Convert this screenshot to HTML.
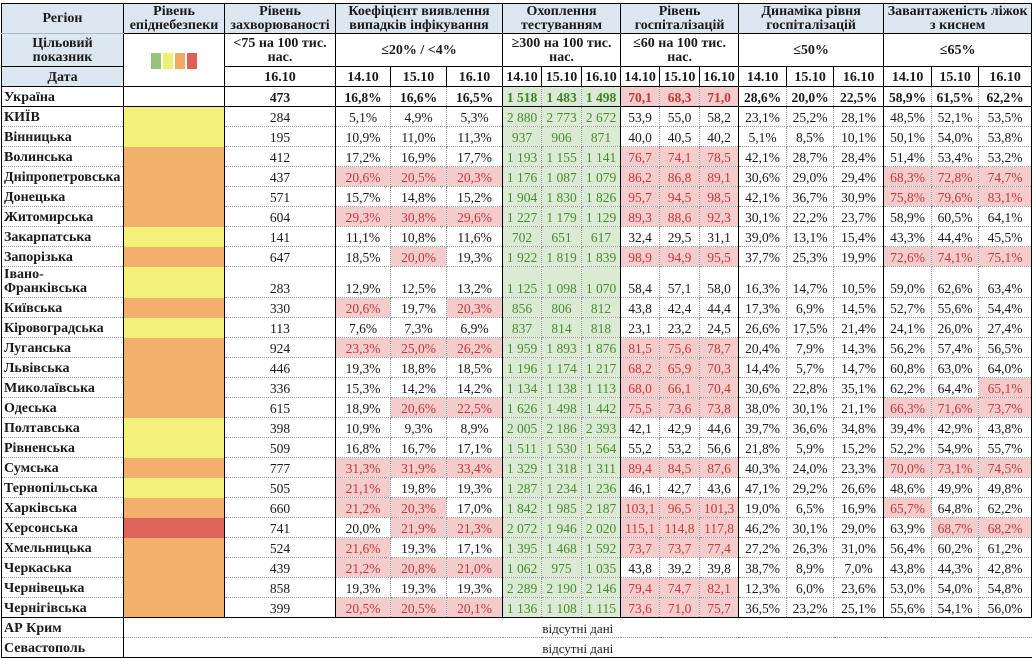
<!DOCTYPE html>
<html lang="uk">
<head>
<meta charset="utf-8">
<style>
html,body{margin:0;padding:0;background:#fff;}
body{width:1033px;height:658px;overflow:hidden;position:relative;}
table{position:absolute;left:1px;top:3px;border-collapse:collapse;table-layout:fixed;width:1030px;
  font-family:"Liberation Serif","DejaVu Serif",serif;font-size:13.5px;color:#1a1a1a;}
td{border:1px dotted #9a9a9a;padding:2px 1px 0 1px;text-align:center;vertical-align:middle;line-height:14px;white-space:nowrap;overflow:hidden;}
tr{height:20px;}
/* header */
tr.h td{border:1px solid #000;font-weight:bold;font-size:14px;}
tr.h1 td{background:#dce6f1;padding:0 1px;}
tr.h1 td.c1{border-bottom-color:#a9b8cc;}
td.bl{background:#dce6f1;}
.lg{display:inline-block;width:10px;height:16px;margin:0 1px;vertical-align:middle;}
/* data rows */
tr.d td:first-child{text-align:left;font-weight:bold;font-size:14px;padding-left:2px;border-left:1px solid #000;}
tr.d td:last-child{border-right:1px solid #000;}
tr.d td:nth-child(2),tr.d td:nth-child(3),tr.d td:nth-child(4),tr.d td:nth-child(7),
tr.d td:nth-child(10),tr.d td:nth-child(13),tr.d td:nth-child(16){border-left:1px solid #000;}
tr.d td:nth-child(n+7):nth-child(-n+9){background:#dbead2;color:#4b8a34;}
tr.u td{font-weight:bold;border-top:1px solid #000;border-bottom:1px solid #000;}
tr.u td:nth-child(n+7):nth-child(-n+9){color:#3f7f2a;}
td.p{background:#f4cccc;color:#c0393b;}
td.y,td.o,td.r{border-top:none;border-bottom:none;}
td.y{background:#f3f17a;}
td.o{background:#f3b06c;}
td.r{background:#df625b;}
tr.iv{height:31px;}
tr.iv td{vertical-align:bottom;padding-top:0;padding-bottom:1px;}
tr.iv td:first-child{vertical-align:middle;padding:0 0 0 2px;}
tr.k td{border-top:1px solid #000;}
tr.last td{border-bottom:1px solid #000;}
tr.k td.na,tr.last td.na{font-size:13px;border-right:none;}
</style>
</head>
<body>
<table>
<colgroup>
<col style="width:122px"><col style="width:101px"><col style="width:111px">
<col style="width:55px"><col style="width:56px"><col style="width:56px">
<col style="width:39px"><col style="width:40px"><col style="width:39px">
<col style="width:39px"><col style="width:40px"><col style="width:39px">
<col style="width:48px"><col style="width:47px"><col style="width:50px">
<col style="width:48px"><col style="width:47px"><col style="width:53px">
</colgroup>
<tr class="h h1" style="height:30px">
<td class="c1">Регіон</td>
<td>Рівень<br>епіднебезпеки</td>
<td>Рівень<br>захворюваності</td>
<td colspan="3">Коефіцієнт виявлення<br>випадків інфікування</td>
<td colspan="3">Охоплення<br>тестуванням</td>
<td colspan="3">Рівень<br>госпіталізацій</td>
<td colspan="3">Динаміка рівня<br>госпіталізацій</td>
<td colspan="3">Завантаженість ліжок<br>з киснем</td>
</tr>
<tr class="h" style="height:33px">
<td class="bl">Цільовий<br>показник</td>
<td rowspan="2"><span class="lg" style="background:#97c37a"></span><span class="lg" style="background:#f2ee72"></span><span class="lg" style="background:#f2aa62"></span><span class="lg" style="background:#df5f5a"></span></td>
<td>&lt;75 на 100 тис.<br>нас.</td>
<td colspan="3">≤20% / &lt;4%</td>
<td colspan="3">≥300 на 100 тис.<br>нас.</td>
<td colspan="3">≤60 на 100 тис.<br>нас.</td>
<td colspan="3">≤50%</td>
<td colspan="3">≤65%</td>
</tr>
<tr class="h" style="height:20px">
<td class="bl">Дата</td>
<td>16.10</td>
<td>14.10</td><td>15.10</td><td>16.10</td>
<td>14.10</td><td>15.10</td><td>16.10</td>
<td>14.10</td><td>15.10</td><td>16.10</td>
<td>14.10</td><td>15.10</td><td>16.10</td>
<td>14.10</td><td>15.10</td><td>16.10</td>
</tr>
<tr class="d u"><td>Україна</td><td></td><td>473</td><td>16,8%</td><td>16,6%</td><td>16,5%</td><td>1 518</td><td>1 483</td><td>1 498</td><td class="p">70,1</td><td class="p">68,3</td><td class="p">71,0</td><td>28,6%</td><td>20,0%</td><td>22,5%</td><td>58,9%</td><td>61,5%</td><td>62,2%</td></tr>
<tr class="d"><td>КИЇВ</td><td class="y"></td><td>284</td><td>5,1%</td><td>4,9%</td><td>5,3%</td><td>2 880</td><td>2 773</td><td>2 672</td><td>53,9</td><td>55,0</td><td>58,2</td><td>23,1%</td><td>25,2%</td><td>28,1%</td><td>48,5%</td><td>52,1%</td><td>53,5%</td></tr>
<tr class="d"><td>Вінницька</td><td class="y"></td><td>195</td><td>10,9%</td><td>11,0%</td><td>11,3%</td><td>937</td><td>906</td><td>871</td><td>40,0</td><td>40,5</td><td>40,2</td><td>5,1%</td><td>8,5%</td><td>10,1%</td><td>50,1%</td><td>54,0%</td><td>53,8%</td></tr>
<tr class="d"><td>Волинська</td><td class="o"></td><td>412</td><td>17,2%</td><td>16,9%</td><td>17,7%</td><td>1 193</td><td>1 155</td><td>1 141</td><td class="p">76,7</td><td class="p">74,1</td><td class="p">78,5</td><td>42,1%</td><td>28,7%</td><td>28,4%</td><td>51,4%</td><td>53,4%</td><td>53,2%</td></tr>
<tr class="d"><td>Дніпропетровська</td><td class="o"></td><td>437</td><td class="p">20,6%</td><td class="p">20,5%</td><td class="p">20,3%</td><td>1 176</td><td>1 087</td><td>1 079</td><td class="p">86,2</td><td class="p">86,8</td><td class="p">89,1</td><td>30,6%</td><td>29,0%</td><td>29,4%</td><td class="p">68,3%</td><td class="p">72,8%</td><td class="p">74,7%</td></tr>
<tr class="d"><td>Донецька</td><td class="o"></td><td>571</td><td>15,7%</td><td>14,8%</td><td>15,2%</td><td>1 904</td><td>1 830</td><td>1 826</td><td class="p">95,7</td><td class="p">94,5</td><td class="p">98,5</td><td>42,1%</td><td>36,7%</td><td>30,9%</td><td class="p">75,8%</td><td class="p">79,6%</td><td class="p">83,1%</td></tr>
<tr class="d"><td>Житомирська</td><td class="o"></td><td>604</td><td class="p">29,3%</td><td class="p">30,8%</td><td class="p">29,6%</td><td>1 227</td><td>1 179</td><td>1 129</td><td class="p">89,3</td><td class="p">88,6</td><td class="p">92,3</td><td>30,1%</td><td>22,2%</td><td>23,7%</td><td>58,9%</td><td>60,5%</td><td>64,1%</td></tr>
<tr class="d"><td>Закарпатська</td><td class="y"></td><td>141</td><td>11,1%</td><td>10,8%</td><td>11,6%</td><td>702</td><td>651</td><td>617</td><td>32,4</td><td>29,5</td><td>31,1</td><td>39,0%</td><td>13,1%</td><td>15,4%</td><td>43,3%</td><td>44,4%</td><td>45,5%</td></tr>
<tr class="d"><td>Запорізька</td><td class="o"></td><td>647</td><td>18,5%</td><td class="p">20,0%</td><td>19,3%</td><td>1 922</td><td>1 819</td><td>1 839</td><td class="p">98,9</td><td class="p">94,9</td><td class="p">95,5</td><td>37,7%</td><td>25,3%</td><td>19,9%</td><td class="p">72,6%</td><td class="p">74,1%</td><td class="p">75,1%</td></tr>
<tr class="d iv"><td>Івано-<br>Франківська</td><td class="y"></td><td>283</td><td>12,9%</td><td>12,5%</td><td>13,2%</td><td>1 125</td><td>1 098</td><td>1 070</td><td>58,4</td><td>57,1</td><td>58,0</td><td>16,3%</td><td>14,7%</td><td>10,5%</td><td>59,0%</td><td>62,6%</td><td>63,4%</td></tr>
<tr class="d"><td>Київська</td><td class="o"></td><td>330</td><td class="p">20,6%</td><td>19,7%</td><td class="p">20,3%</td><td>856</td><td>806</td><td>812</td><td>43,8</td><td>42,4</td><td>44,4</td><td>17,3%</td><td>6,9%</td><td>14,5%</td><td>52,7%</td><td>55,6%</td><td>54,4%</td></tr>
<tr class="d"><td>Кіровоградська</td><td class="y"></td><td>113</td><td>7,6%</td><td>7,3%</td><td>6,9%</td><td>837</td><td>814</td><td>818</td><td>23,1</td><td>23,2</td><td>24,5</td><td>26,6%</td><td>17,5%</td><td>21,4%</td><td>24,1%</td><td>26,0%</td><td>27,4%</td></tr>
<tr class="d"><td>Луганська</td><td class="o"></td><td>924</td><td class="p">23,3%</td><td class="p">25,0%</td><td class="p">26,2%</td><td>1 959</td><td>1 893</td><td>1 876</td><td class="p">81,5</td><td class="p">75,6</td><td class="p">78,7</td><td>20,4%</td><td>7,9%</td><td>14,3%</td><td>56,2%</td><td>57,4%</td><td>56,5%</td></tr>
<tr class="d"><td>Львівська</td><td class="o"></td><td>446</td><td>19,3%</td><td>18,8%</td><td>18,5%</td><td>1 196</td><td>1 174</td><td>1 217</td><td class="p">68,2</td><td class="p">65,9</td><td class="p">70,3</td><td>14,4%</td><td>5,7%</td><td>14,7%</td><td>60,8%</td><td>63,0%</td><td>64,0%</td></tr>
<tr class="d"><td>Миколаївська</td><td class="o"></td><td>336</td><td>15,3%</td><td>14,2%</td><td>14,2%</td><td>1 134</td><td>1 138</td><td>1 113</td><td class="p">68,0</td><td class="p">66,1</td><td class="p">70,4</td><td>30,6%</td><td>22,8%</td><td>35,1%</td><td>62,2%</td><td>64,4%</td><td class="p">65,1%</td></tr>
<tr class="d"><td>Одеська</td><td class="o"></td><td>615</td><td>18,9%</td><td class="p">20,6%</td><td class="p">22,5%</td><td>1 626</td><td>1 498</td><td>1 442</td><td class="p">75,5</td><td class="p">73,6</td><td class="p">73,8</td><td>38,0%</td><td>30,1%</td><td>21,1%</td><td class="p">66,3%</td><td class="p">71,6%</td><td class="p">73,7%</td></tr>
<tr class="d"><td>Полтавська</td><td class="y"></td><td>398</td><td>10,9%</td><td>9,3%</td><td>8,9%</td><td>2 005</td><td>2 186</td><td>2 393</td><td>42,1</td><td>42,9</td><td>44,6</td><td>39,7%</td><td>36,6%</td><td>34,8%</td><td>39,4%</td><td>42,9%</td><td>43,8%</td></tr>
<tr class="d"><td>Рівненська</td><td class="y"></td><td>509</td><td>16,8%</td><td>16,7%</td><td>17,1%</td><td>1 511</td><td>1 530</td><td>1 564</td><td>55,2</td><td>53,2</td><td>56,6</td><td>21,8%</td><td>5,9%</td><td>15,2%</td><td>52,2%</td><td>54,9%</td><td>55,7%</td></tr>
<tr class="d"><td>Сумська</td><td class="o"></td><td>777</td><td class="p">31,3%</td><td class="p">31,9%</td><td class="p">33,4%</td><td>1 329</td><td>1 318</td><td>1 311</td><td class="p">89,4</td><td class="p">84,5</td><td class="p">87,6</td><td>40,3%</td><td>24,0%</td><td>23,3%</td><td class="p">70,0%</td><td class="p">73,1%</td><td class="p">74,5%</td></tr>
<tr class="d"><td>Тернопільська</td><td class="y"></td><td>505</td><td class="p">21,1%</td><td>19,8%</td><td>19,3%</td><td>1 287</td><td>1 234</td><td>1 236</td><td>46,1</td><td>42,7</td><td>43,6</td><td>47,1%</td><td>29,2%</td><td>26,6%</td><td>48,6%</td><td>49,9%</td><td>49,8%</td></tr>
<tr class="d"><td>Харківська</td><td class="o"></td><td>660</td><td class="p">21,2%</td><td class="p">20,3%</td><td>17,0%</td><td>1 842</td><td>1 985</td><td>2 187</td><td class="p">103,1</td><td class="p">96,5</td><td class="p">101,3</td><td>19,0%</td><td>6,5%</td><td>16,9%</td><td class="p">65,7%</td><td>64,8%</td><td>62,2%</td></tr>
<tr class="d"><td>Херсонська</td><td class="r"></td><td>741</td><td>20,0%</td><td class="p">21,9%</td><td class="p">21,3%</td><td>2 072</td><td>1 946</td><td>2 020</td><td class="p">115,1</td><td class="p">114,8</td><td class="p">117,8</td><td>46,2%</td><td>30,1%</td><td>29,0%</td><td>63,9%</td><td class="p">68,7%</td><td class="p">68,2%</td></tr>
<tr class="d"><td>Хмельницька</td><td class="o"></td><td>524</td><td class="p">21,6%</td><td>19,3%</td><td>17,1%</td><td>1 395</td><td>1 468</td><td>1 592</td><td class="p">73,7</td><td class="p">73,7</td><td class="p">77,4</td><td>27,2%</td><td>26,3%</td><td>31,0%</td><td>56,4%</td><td>60,2%</td><td>61,2%</td></tr>
<tr class="d"><td>Черкаська</td><td class="o"></td><td>439</td><td class="p">21,2%</td><td class="p">20,8%</td><td class="p">21,0%</td><td>1 062</td><td>975</td><td>1 035</td><td>43,8</td><td>39,2</td><td>39,8</td><td>38,7%</td><td>8,9%</td><td>7,0%</td><td>43,8%</td><td>44,3%</td><td>42,8%</td></tr>
<tr class="d"><td>Чернівецька</td><td class="o"></td><td>858</td><td>19,3%</td><td>19,3%</td><td>19,3%</td><td>2 289</td><td>2 190</td><td>2 146</td><td class="p">79,4</td><td class="p">74,7</td><td class="p">82,1</td><td>12,3%</td><td>6,0%</td><td>23,6%</td><td>53,0%</td><td>54,0%</td><td>54,8%</td></tr>
<tr class="d"><td>Чернігівська</td><td class="o"></td><td>399</td><td class="p">20,5%</td><td class="p">20,5%</td><td class="p">20,1%</td><td>1 136</td><td>1 108</td><td>1 115</td><td class="p">73,6</td><td class="p">71,0</td><td class="p">75,7</td><td>36,5%</td><td>23,2%</td><td>25,1%</td><td>55,6%</td><td>54,1%</td><td>56,0%</td></tr>
<tr class="d k"><td>АР Крим</td><td class="na" colspan="17">відсутні дані</td></tr>
<tr class="d last"><td>Севастополь</td><td class="na" colspan="17">відсутні дані</td></tr>
</table>
</body>
</html>
